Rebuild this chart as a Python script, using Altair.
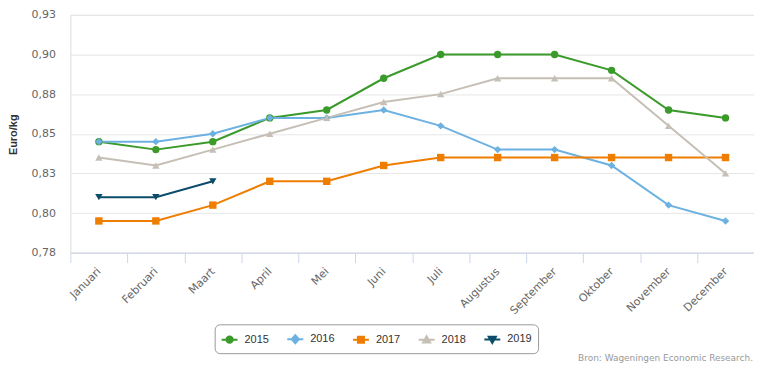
import altair as alt
import pandas as pd

months = ["Januari", "Februari", "Maart", "April", "Mei", "Juni", "Juli",
          "Augustus", "September", "Oktober", "November", "December"]
years = ["2015", "2016", "2017", "2018", "2019"]
v2015 = [0.845, 0.840, 0.845, 0.860, 0.865, 0.885, 0.900, 0.900, 0.900, 0.890, 0.865, 0.860]
v2016 = [0.845, 0.845, 0.850, 0.860, 0.860, 0.865, 0.855, 0.840, 0.840, 0.830, 0.805, 0.795]
v2017 = [0.795, 0.795, 0.805, 0.820, 0.820, 0.830, 0.835, 0.835, 0.835, 0.835, 0.835, 0.835]
v2018 = [0.835, 0.830, 0.840, 0.850, 0.860, 0.870, 0.875, 0.885, 0.885, 0.885, 0.855, 0.825]
v2019 = [0.810, 0.810, 0.820]
y_ticks = [0.775, 0.800, 0.825, 0.850, 0.875, 0.900, 0.925]
colors = ["#3a9a2a", "#6cb1e1", "#ef7d00", "#c6bfb5", "#0b4c6a"]
shapes = ["circle", "diamond", "square", "triangle-up", "triangle-down"]
credits = "Bron: Wageningen Economic Research."

series = [v2015, v2016, v2017, v2018, v2019]
rows = []
for yr, vals in zip(years, series):
    for m, v in zip(months, vals):
        rows.append({"month": m, "year": yr, "value": v})
df = pd.DataFrame(rows)

# legend symbols: a short line with the series marker on it
legend_paths = [
    "M-1,0H1M-0.4,0A0.4,0.4,0,1,1,0.4,0A0.4,0.4,0,1,1,-0.4,0Z",
    "M-1,0H1M0,-0.5L0.45,0L0,0.5L-0.45,0Z",
    "M-1,0H1M-0.38,-0.38H0.38V0.38H-0.38Z",
    "M-1,0H1M0,-0.45L0.45,0.35H-0.45Z",
    "M-1,0H1M-0.45,-0.35H0.45L0,0.45Z",
]

xscale = alt.Scale(type="band", paddingInner=0, paddingOuter=0)
xaxis = alt.Axis(title=None, labelAngle=315, labelAlign="right", labelBaseline="middle",
                 labelFont="DejaVu Sans", labelFontSize=11, labelColor="#666666",
                 labelPadding=7, domainColor="#ccd6eb", tickColor="#ccd6eb",
                 tickSize=10, tickBand="extent", grid=False)
yscale = alt.Scale(domain=[0.775, 0.925], nice=False, zero=False)
yaxis = alt.Axis(title="Euro/kg", values=y_ticks,
                 labelExpr="replace(format(datum.value + 1e-9, '.2f'), '.', ',')",
                 labelFont="DejaVu Sans", labelFontSize=11, labelColor="#666666",
                 labelPadding=15, domain=False, ticks=False,
                 gridColor="#e6e6e6", gridWidth=1,
                 titleFont="Liberation Sans", titleFontSize=11, titleFontWeight="bold",
                 titleColor="#333333", titleAngle=270, titleX=-54, titleY=120,
                 titleAlign="center", titleBaseline="alphabetic")

legend = alt.Legend(title=None, orient="none", legendX=145, legendY=311,
                    direction="horizontal", strokeColor="#999999", cornerRadius=5,
                    padding=6, fillColor="white", symbolSize=256,
                    labelFont="Liberation Sans", labelFontSize=11, labelColor="#333333",
                    labelOffset=6, columnPadding=14, symbolStrokeWidth=2, symbolOpacity=1)

X = alt.X("month:N", sort=months, scale=xscale, axis=xaxis)
Y = alt.Y("value:Q", scale=yscale, axis=yaxis)
color_l = alt.Color("year:N", scale=alt.Scale(domain=years, range=colors), legend=legend)
color = alt.Color("year:N", scale=alt.Scale(domain=years, range=colors), legend=None)

base = alt.Chart(df)
lines = base.mark_line(strokeWidth=2).encode(x=X, y=Y, color=color_l, detail="year:N")

point_layers = []
for yr, shp in zip(years, shapes):
    point_layers.append(
        base.transform_filter(alt.datum.year == yr)
        .mark_point(filled=True, opacity=1, size=55, shape=shp)
        .encode(x=X, y=Y, color=color)
    )

legend_layer = base.mark_point(filled=True, opacity=1, strokeWidth=2, size=0).encode(
    x=X, y=Y,
    fill=alt.Fill("year:N", scale=alt.Scale(domain=years, range=colors), legend=legend),
    stroke=alt.Stroke("year:N", scale=alt.Scale(domain=years, range=colors), legend=legend),
    shape=alt.Shape("year:N", scale=alt.Scale(domain=years, range=legend_paths), legend=legend),
)

credit = alt.Chart(pd.DataFrame({"t": [credits]})).mark_text(
    align="right", baseline="middle", font="DejaVu Sans", fontSize=9, color="#999999"
).encode(text="t:N", x=alt.value(686), y=alt.value(345))

chart = alt.layer(lines, *point_layers, legend_layer, credit).properties(
    width=687, height=239,
    padding={"left": 62.7, "top": 6, "right": 0, "bottom": 110},
    autosize=alt.AutoSizeParams(type="none"),
).configure_view(stroke=None).configure(background="white")

chart.save("out.html", embed_options={"renderer": "svg", "actions": False})
